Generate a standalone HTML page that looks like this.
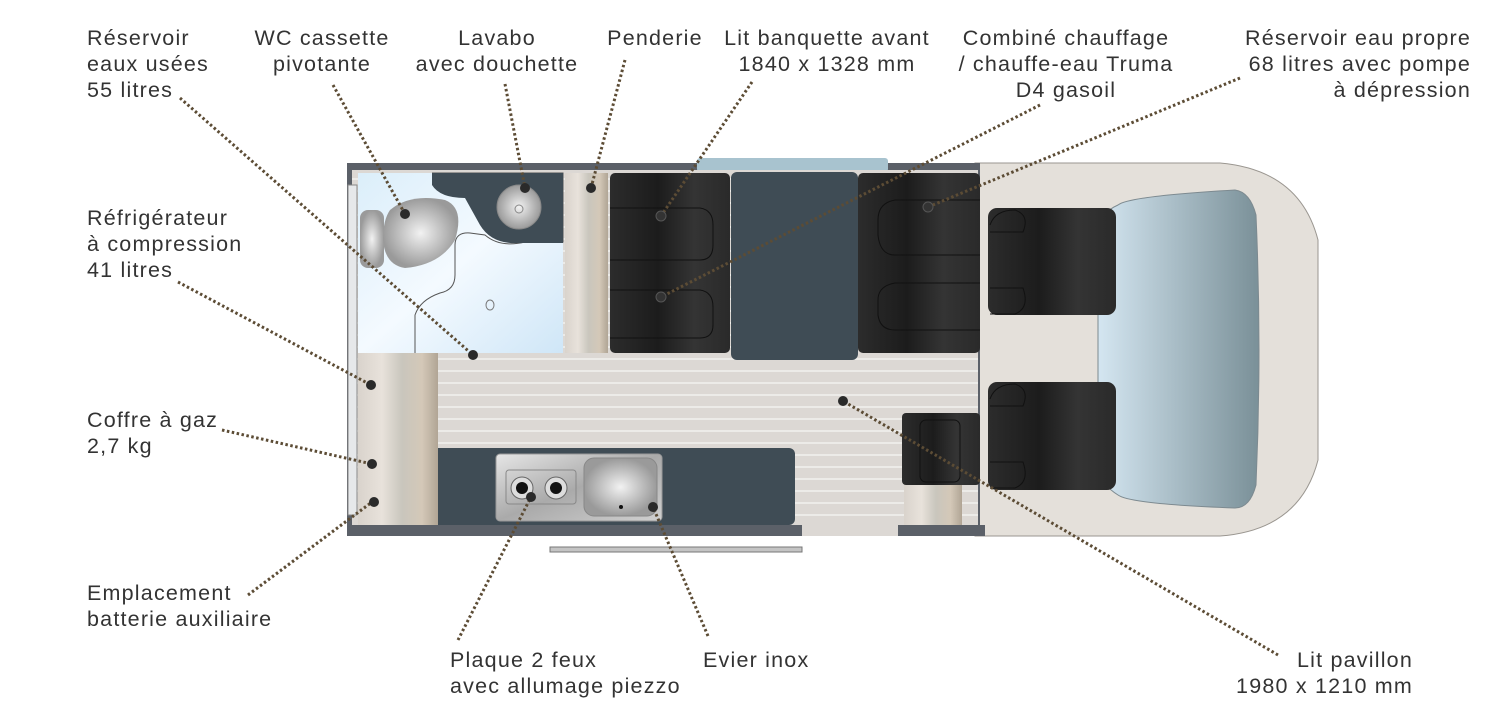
<!DOCTYPE html>
<html><head><meta charset="utf-8"><style>
html,body{margin:0;padding:0;background:#fff;width:1500px;height:720px;overflow:hidden}
svg text{font-family:"Liberation Sans",sans-serif;font-size:21.5px;letter-spacing:1.2px;fill:#333}
</style></head><body>
<svg width="1500" height="720" viewBox="0 0 1500 720" xmlns="http://www.w3.org/2000/svg">
<defs>
<linearGradient id="bath" x1="0" y1="0" x2="1" y2="1"><stop offset="0" stop-color="#dbeefa"/><stop offset="0.5" stop-color="#f4faff"/><stop offset="1" stop-color="#cfe6f7"/></linearGradient>
<linearGradient id="beige" x1="0" y1="0" x2="1" y2="0"><stop offset="0" stop-color="#d9d3cc"/><stop offset="0.3" stop-color="#e8e2db"/><stop offset="0.55" stop-color="#c9c6bd"/><stop offset="0.8" stop-color="#d4c8b8"/><stop offset="1" stop-color="#b0a595"/></linearGradient>
<linearGradient id="seat" x1="0" y1="0" x2="1" y2="0"><stop offset="0" stop-color="#2c2c2c"/><stop offset="0.4" stop-color="#1c1c1c"/><stop offset="0.7" stop-color="#343434"/><stop offset="1" stop-color="#2a2a2a"/></linearGradient>
<linearGradient id="wind" x1="0" y1="0" x2="1" y2="0"><stop offset="0" stop-color="#d4e6f1"/><stop offset="1" stop-color="#7a9098"/></linearGradient>
<linearGradient id="steel" x1="0" y1="0" x2="1" y2="1"><stop offset="0" stop-color="#e6e6e6"/><stop offset="0.5" stop-color="#aaaaaa"/><stop offset="1" stop-color="#d0d0d0"/></linearGradient>
<radialGradient id="bowl"><stop offset="0" stop-color="#f2f2f2"/><stop offset="1" stop-color="#9a9a9a"/></radialGradient>
<pattern id="floor" width="10" height="12" patternUnits="userSpaceOnUse"><rect width="10" height="12" fill="#dcd8d4"/><rect y="10" width="10" height="2" fill="#ecebe8"/></pattern>
</defs>

<path d="M975 163 L1220 163 Q1300 170 1318 240 L1318 460 Q1300 530 1220 536 L975 536 Z" fill="#e4e0da" stroke="#9a9690" stroke-width="1"/>
<path d="M1118 205 Q1130 196 1235 190 Q1250 192 1256 215 Q1262 350 1256 485 Q1250 508 1235 508 Q1130 504 1118 495 Q1102 485 1098 470 L1098 228 Q1102 212 1118 205 Z" fill="url(#wind)" stroke="#7d8a90"/>
<rect x="988" y="208" width="128" height="107" rx="9" fill="url(#seat)"/>
<rect x="988" y="382" width="128" height="108" rx="9" fill="url(#seat)"/>
<path d="M990 225 Q995 210 1015 210 Q1030 215 1023 232 L990 232 M990 288 L1023 288 Q1030 308 1015 314 L990 314" fill="none" stroke="#111"/>
<path d="M990 399 Q995 384 1015 384 Q1030 389 1023 406 L990 406 M990 462 L1023 462 Q1030 482 1015 488 L990 488" fill="none" stroke="#111"/>

<rect x="347" y="163" width="633" height="373" fill="#5b6068"/>
<rect x="697" y="158" width="191" height="14" rx="3" fill="#a8c3cf"/>
<rect x="352" y="170" width="626" height="356" fill="url(#floor)"/>
<rect x="348" y="185" width="9" height="330" fill="#e6e8ea" stroke="#888"/>
<rect x="358" y="173" width="205" height="180" fill="url(#bath)"/>
<path d="M432 173 L563 173 L563 242 L525 242 Q500 248 485 235 L470 233 Q455 232 455 245 L455 275 Q455 290 440 293 Q420 300 415 315 L415 353" fill="none" stroke="#555" stroke-width="1"/>
<path d="M432 173 L563 173 L563 243 L520 243 Q492 245 480 225 L465 198 Q440 198 432 185 Z" fill="#3f4c55"/>
<circle cx="519" cy="207" r="22" fill="url(#bowl)" stroke="#888"/>
<circle cx="519" cy="209" r="4" fill="none" stroke="#888"/>
<ellipse cx="490" cy="305" rx="4" ry="5" fill="none" stroke="#777"/>
<rect x="360" y="210" width="24" height="58" rx="8" fill="url(#bowl)"/>
<path d="M390 210 Q410 193 445 200 Q465 208 455 240 Q440 265 405 268 Q385 265 383 240 Q383 220 390 210 Z" fill="url(#bowl)"/>
<rect x="565" y="173" width="43" height="180" fill="url(#beige)"/>
<rect x="610" y="173" width="120" height="180" rx="5" fill="url(#seat)"/>
<rect x="858" y="173" width="122" height="180" rx="5" fill="url(#seat)"/>
<path d="M610 208 L700 208 Q713 210 713 225 L713 245 Q713 260 700 260 L610 260 M610 290 L700 290 Q713 292 713 307 L713 325 Q713 338 700 338 L610 338" fill="none" stroke="#111"/>
<path d="M980 200 L895 200 Q878 203 878 220 L878 235 Q880 255 895 255 L980 255 M980 283 L895 283 Q878 286 878 300 L878 315 Q880 330 895 330 L980 330" fill="none" stroke="#111"/>
<rect x="731" y="172" width="127" height="188" rx="6" fill="#3f4c55"/>
<rect x="358" y="353" width="80" height="172" fill="url(#beige)"/>
<rect x="438" y="448" width="357" height="77" rx="6" fill="#3f4c55"/>
<rect x="438" y="448" width="10" height="77" fill="#3f4c55"/>
<rect x="496" y="454" width="166" height="67" rx="4" fill="url(#steel)" stroke="#999"/>
<rect x="506" y="470" width="70" height="34" rx="3" fill="none" stroke="#888"/>
<circle cx="522" cy="488" r="11" fill="#ddd" stroke="#666"/><circle cx="522" cy="488" r="6" fill="#111"/>
<circle cx="556" cy="488" r="11" fill="#ddd" stroke="#666"/><circle cx="556" cy="488" r="6" fill="#111"/>
<rect x="584" y="458" width="73" height="58" rx="10" fill="url(#bowl)" stroke="#888"/>
<circle cx="621" cy="507" r="2" fill="#111"/>
<rect x="347" y="525" width="455" height="11" fill="#5b6068"/>
<rect x="902" y="413" width="78" height="72" rx="4" fill="url(#seat)"/>
<rect x="920" y="420" width="40" height="62" rx="6" fill="none" stroke="#111"/>
<rect x="904" y="485" width="58" height="41" fill="url(#beige)"/>
<rect x="898" y="525" width="87" height="11" fill="#5b6068"/>
<rect x="802" y="526" width="96" height="10" fill="#dcd8d4"/>
<rect x="550" y="547" width="252" height="5" fill="#c4c4c4" stroke="#777"/>

<g stroke="#5c4c35" stroke-width="3" stroke-dasharray="2.5 2.5" fill="none">
<line x1="180" y1="98" x2="473" y2="355"/>
<line x1="333" y1="85" x2="405" y2="214"/>
<line x1="505" y1="84" x2="525" y2="188"/>
<line x1="625" y1="60" x2="591" y2="188"/>
<line x1="752" y1="82" x2="661" y2="216"/>
<line x1="1040" y1="105" x2="661" y2="297"/>
<line x1="1240" y1="78" x2="928" y2="207"/>
<line x1="178" y1="282" x2="371" y2="385"/>
<line x1="222" y1="430" x2="372" y2="464"/>
<line x1="248" y1="595" x2="372" y2="502"/>
<line x1="458" y1="640" x2="531" y2="497"/>
<line x1="708" y1="636" x2="653" y2="507"/>
<line x1="1278" y1="655" x2="843" y2="401"/>
</g>
<g fill="#2a2a2a">
<circle cx="473" cy="355" r="5"/><circle cx="405" cy="214" r="5"/><circle cx="525" cy="188" r="5"/>
<circle cx="591" cy="188" r="5"/><circle cx="661" cy="216" r="5" fill="#333" stroke="#555"/><circle cx="661" cy="297" r="5" fill="#333" stroke="#555"/>
<circle cx="928" cy="207" r="5" fill="#333" stroke="#555"/><circle cx="371" cy="385" r="5"/><circle cx="372" cy="464" r="5"/>
<circle cx="374" cy="502" r="5"/><circle cx="531" cy="497" r="5"/><circle cx="653" cy="507" r="5"/><circle cx="843" cy="401" r="5"/>
</g>

<text x="87" y="45">Réservoir</text><text x="87" y="71">eaux usées</text><text x="87" y="97">55 litres</text>
<text x="322" y="45" text-anchor="middle">WC cassette</text><text x="322" y="71" text-anchor="middle">pivotante</text>
<text x="497" y="45" text-anchor="middle">Lavabo</text><text x="497" y="71" text-anchor="middle">avec douchette</text>
<text x="655" y="45" text-anchor="middle">Penderie</text>
<text x="827" y="45" text-anchor="middle">Lit banquette avant</text><text x="827" y="71" text-anchor="middle">1840 x 1328 mm</text>
<text x="1066" y="45" text-anchor="middle">Combiné chauffage</text><text x="1066" y="71" text-anchor="middle">/ chauffe-eau Truma</text><text x="1066" y="97" text-anchor="middle">D4 gasoil</text>
<text x="1471" y="45" text-anchor="end">Réservoir eau propre</text><text x="1471" y="71" text-anchor="end">68 litres avec pompe</text><text x="1471" y="97" text-anchor="end">à dépression</text>
<text x="87" y="225">Réfrigérateur</text><text x="87" y="251">à compression</text><text x="87" y="277">41 litres</text>
<text x="87" y="427">Coffre à gaz</text><text x="87" y="453">2,7 kg</text>
<text x="87" y="600">Emplacement</text><text x="87" y="626">batterie auxiliaire</text>
<text x="450" y="667">Plaque 2 feux</text><text x="450" y="693">avec allumage piezzo</text>
<text x="703" y="667">Evier inox</text>
<text x="1413" y="667" text-anchor="end">Lit pavillon</text><text x="1413" y="693" text-anchor="end">1980 x 1210 mm</text>
</svg>
</body></html>
